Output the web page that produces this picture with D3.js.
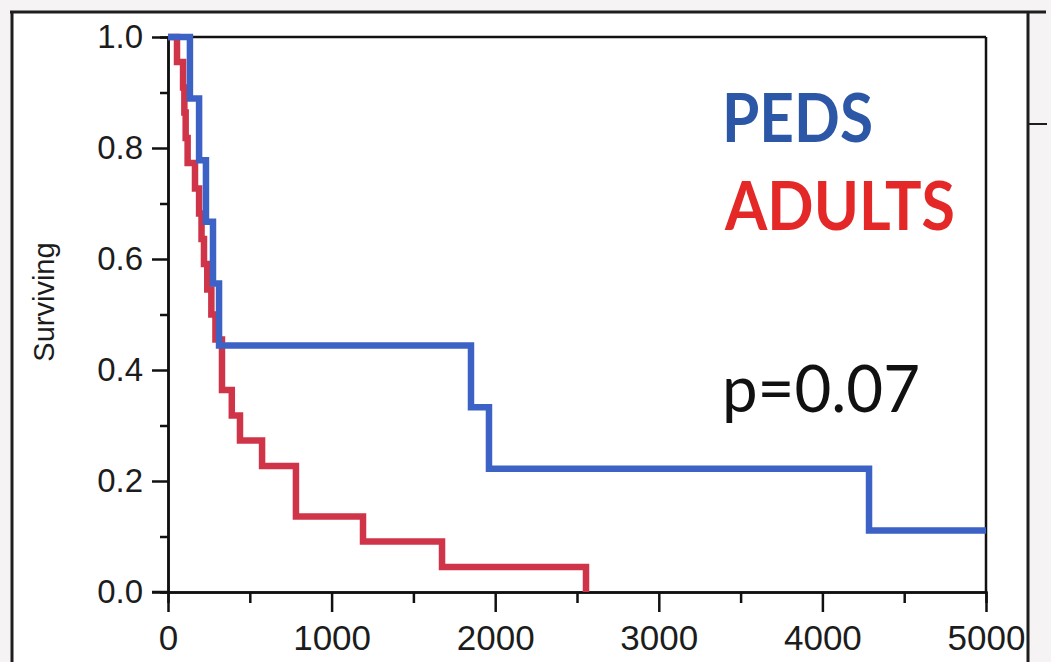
<!DOCTYPE html>
<html>
<head>
<meta charset="utf-8">
<script src="https://cdn.jsdelivr.net/npm/d3@7"></script>
<style>
  html, body { margin: 0; padding: 0; background: #f5f3f3; }
  svg { display: block; }
</style>
</head>
<body>
<svg id="chart" width="1051" height="662"></svg>
<script>
// Kaplan-Meier survival, days since diagnosis
const pedsTime = [0, 134, 190, 232, 275, 312, 1852, 1962, 4285, 5000];
const pedsSurv = [1.0, 0.889, 0.778, 0.667, 0.556, 0.444, 0.333, 0.222, 0.111, 0.111];

const adultTime = [0, 55, 92, 100, 108, 120, 165, 190, 205, 220, 240, 265, 290, 330,
                   390, 440, 575, 782, 1192, 1675, 2555];
const adultSurv = [1.0, 0.955, 0.909, 0.864, 0.818, 0.773, 0.727, 0.682, 0.636, 0.591,
                   0.545, 0.500, 0.455, 0.364, 0.318, 0.273, 0.227, 0.136, 0.091, 0.045, 0.0];

const xMajor = [0, 1000, 2000, 3000, 4000, 5000];
const xMinor = [500, 1500, 2500, 3500, 4500];
const yMajor = [0.0, 0.2, 0.4, 0.6, 0.8, 1.0];
const yMinor = [0.1, 0.3, 0.5, 0.7, 0.9];

const groupLabels = ["PEDS", "ADULTS"];
const pLabel = "p=0.07";
const yTitle = "Surviving";

const svg = d3.select("#chart");

// window frame
svg.append("rect").attr("x", 12).attr("y", 12).attr("width", 1016).attr("height", 650)
  .attr("fill", "#ffffff");
const frame = svg.append("g").attr("stroke", "#1e1e1e").attr("stroke-width", 3);
frame.append("line").attr("x1", 10).attr("x2", 1046).attr("y1", 12).attr("y2", 12);
frame.append("line").attr("x1", 12).attr("x2", 12).attr("y1", 12).attr("y2", 662);
frame.append("line").attr("x1", 1028).attr("x2", 1028).attr("y1", 12).attr("y2", 662);
frame.append("line").attr("x1", 1028).attr("x2", 1047).attr("y1", 124).attr("y2", 124)
  .attr("stroke-width", 2);

const x = d3.scaleLinear().domain([0, 5000]).range([168, 986]);
const y = d3.scaleLinear().domain([0, 1]).range([592, 37]);

// plot box
const box = svg.append("g").attr("stroke", "#111").attr("stroke-width", 2.5).attr("fill", "none");
box.append("line").attr("x1", x(0)).attr("x2", x(5000)).attr("y1", y(1)).attr("y2", y(1));
box.append("line").attr("x1", x(5000)).attr("x2", x(5000)).attr("y1", y(1)).attr("y2", y(0));

// minor ticks
const xMinorAxis = d3.axisBottom(x).tickValues(xMinor).tickSize(11).tickFormat("");
const yMinorAxis = d3.axisLeft(y).tickValues(yMinor).tickSize(8).tickFormat("");
svg.append("g").attr("transform", `translate(0,${y(0)})`).call(xMinorAxis);
svg.append("g").attr("transform", `translate(${x(0)},0)`).call(yMinorAxis);

// major axes
const xAxis = d3.axisBottom(x).tickValues(xMajor).tickSize(20).tickPadding(13)
  .tickSizeOuter(0).tickFormat(d3.format("d"));
const yAxis = d3.axisLeft(y).tickValues(yMajor).tickSize(16).tickPadding(9)
  .tickSizeOuter(0).tickFormat(d3.format(".1f"));

const gx = svg.append("g").attr("transform", `translate(0,${y(0)})`).call(xAxis);
const gy = svg.append("g").attr("transform", `translate(${x(0)},0)`).call(yAxis);

[gx, gy].forEach(g => {
  g.selectAll("text").attr("fill", "#1c1c1c")
    .attr("font-family", "'Liberation Sans', Arial, sans-serif");
});
svg.selectAll(".tick line").attr("stroke", "#111").attr("stroke-width", 2.5);
svg.selectAll("path.domain").attr("stroke", "#111").attr("stroke-width", 2.5);
gx.selectAll("text").attr("font-size", 35);
gy.selectAll("text").attr("font-size", 33);
// extend x baseline to the left so it meets the 0.0 tick
svg.append("line").attr("x1", x(0) - 16).attr("x2", x(0)).attr("y1", y(0)).attr("y2", y(0))
  .attr("stroke", "#111").attr("stroke-width", 2.5);

// y title
svg.append("text")
  .attr("transform", `translate(54,302) rotate(-90)`)
  .attr("text-anchor", "middle")
  .attr("font-family", "'Liberation Sans', Arial, sans-serif")
  .attr("font-size", 29)
  .attr("fill", "#1c1c1c")
  .text(yTitle);

// survival curves
const step = d3.line().curve(d3.curveStepAfter)
  .x(d => x(d[0])).y(d => y(d[1]));

const adultPts = adultTime.map((t, i) => [t, adultSurv[i]]);
const pedsPts = pedsTime.map((t, i) => [t, pedsSurv[i]]);

svg.append("path").datum(adultPts)
  .attr("d", step)
  .attr("fill", "none")
  .attr("stroke", "#cf3449")
  .attr("stroke-width", 6.5);

svg.append("path").datum(pedsPts)
  .attr("d", step)
  .attr("fill", "none")
  .attr("stroke", "#3c62c6")
  .attr("stroke-width", 6.5);

// group labels and p-value
const lbl = svg.append("g").attr("font-family", "Lato, 'Open Sans', sans-serif");
lbl.append("text").attr("x", 722).attr("y", 142)
  .attr("font-size", 66).attr("font-weight", 700).attr("fill", "#2c56a6")
  .attr("textLength", 151).attr("lengthAdjust", "spacingAndGlyphs")
  .text(groupLabels[0]);
lbl.append("text").attr("x", 725).attr("y", 230)
  .attr("font-size", 66).attr("font-weight", 700).attr("fill", "#e42828")
  .attr("textLength", 230).attr("lengthAdjust", "spacingAndGlyphs")
  .text(groupLabels[1]);
lbl.append("text").attr("x", 722).attr("y", 412)
  .attr("font-size", 66).attr("font-weight", 400).attr("fill", "#111")
  .attr("textLength", 198).attr("lengthAdjust", "spacingAndGlyphs")
  .text(pLabel);
</script>
</body>
</html>
